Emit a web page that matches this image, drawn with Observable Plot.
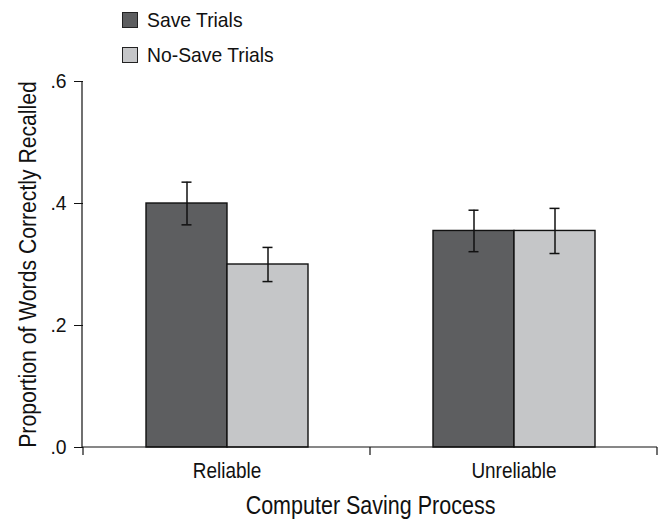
<!DOCTYPE html>
<html><head><meta charset="utf-8">
<script src="https://cdn.jsdelivr.net/npm/d3@7"></script>
<script src="https://cdn.jsdelivr.net/npm/@observablehq/plot@0.6"></script>
<style>
body{margin:0;background:#fff;font-family:"Liberation Sans",Arial,sans-serif;}
#legend{height:66px;position:relative;}
.item{position:absolute;left:122px;height:16px;display:flex;align-items:center;font-size:21px;color:#111;}
.sw{width:14px;height:14px;border:1px solid #222;margin-right:9px;flex:none;}
.item span{display:inline-block;transform:scaleX(0.92);transform-origin:left center;white-space:nowrap;}
svg g[aria-label="y-axis tick label"], svg g[aria-label="y-axis tick label"] text{font-size:21px;}
svg g[aria-label="fx-axis tick label"], svg g[aria-label="fx-axis tick label"] text{font-size:22px;}
svg g[aria-label="fx-axis label"], svg g[aria-label="fx-axis label"] text{font-size:25px;}
svg g[aria-label="y-axis label"], svg g[aria-label="y-axis label"] text{font-size:23px;}
</style></head>
<body>
<div id="legend"></div>
<div id="chart"></div>
<script>
const conditions = ["Reliable", "Unreliable"];
const series = ["Save Trials", "No-Save Trials"];
const saveMeans = [0.40, 0.355];
const saveErr = [0.035, 0.034];
const noSaveMeans = [0.30, 0.355];
const noSaveErr = [0.028, 0.037];
const colors = ["#5d5e60", "#c5c6c8"];
const yTicks = [0, 0.2, 0.4, 0.6];

const rows = [];
conditions.forEach((c, i) => {
  rows.push({cond: c, series: series[0], mean: saveMeans[i], err: saveErr[i]});
  rows.push({cond: c, series: series[1], mean: noSaveMeans[i], err: noSaveErr[i]});
});

// legend
const lg = document.getElementById("legend");
series.forEach((s, i) => {
  const d = document.createElement("div");
  d.className = "item";
  d.style.top = (12 + i * 35) + "px";
  d.innerHTML = `<div class="sw" style="background:${colors[i]}"></div><span>${s}</span>`;
  lg.appendChild(d);
});

const fmt = d => d3.format(".1f")(d).replace(/^0/, "");
const chart = Plot.plot({
  width: 661,
  height: 454,
  marginTop: 15,
  marginBottom: 73,
  marginLeft: 82,
  marginRight: 4,
  style: {fontFamily: '"Liberation Sans",Arial,sans-serif', color: "#111", overflow: "visible"},
  fx: {domain: conditions, paddingInner: 0, paddingOuter: 0},
  x: {domain: series, paddingInner: 0, paddingOuter: 0.753, axis: null},
  y: {domain: [0, 0.6]},
  color: {domain: series, range: colors},
  marks: [
    Plot.axisY({ticks: yTicks, tickFormat: fmt, tickSize: 9, tickPadding: 8,
      label: "Proportion of Words Correctly Recalled", labelAnchor: "center", labelArrow: "none", labelOffset: 64}),
    Plot.axisFx({anchor: "bottom", tickSize: 0, tickPadding: 15,
      label: "Computer Saving Process", labelAnchor: "center", labelArrow: "none", labelOffset: 66}),
    Plot.barY(rows, {fx: "cond", x: "series", y: "mean", fill: "series", stroke: "#111", strokeWidth: 1.4}),
    Plot.ruleX(rows, {fx: "cond", x: "series", y1: d => d.mean - d.err, y2: d => d.mean + d.err, stroke: "#111", strokeWidth: 1.5}),
    Plot.tickY(rows, {fx: "cond", x: "series", y: d => d.mean + d.err, stroke: "#111", strokeWidth: 1.5, insetLeft: 35.5, insetRight: 35.5}),
    Plot.tickY(rows, {fx: "cond", x: "series", y: d => d.mean - d.err, stroke: "#111", strokeWidth: 1.5, insetLeft: 35.5, insetRight: 35.5})
  ]
});

// axis lines and category-boundary ticks, drawn with the plot's own scales
const fx = chart.scale("fx"), y = chart.scale("y");
const svg = d3.select(chart);
const g = svg.append("g").attr("stroke", "#111").attr("stroke-width", 1.2);
const x0 = fx.range[0], x1 = fx.range[1];
g.append("line").attr("x1", x0).attr("x2", x0).attr("y1", y.apply(0)).attr("y2", y.apply(0.6));
g.append("line").attr("x1", x0).attr("x2", x1).attr("y1", y.apply(0)).attr("y2", y.apply(0));
const bounds = conditions.map(c => fx.apply(c)).concat([x1]);
bounds.forEach(b => g.append("line").attr("x1", b).attr("x2", b).attr("y1", y.apply(0)).attr("y2", y.apply(0) + 8));
document.getElementById("chart").appendChild(chart);

// condensed look: squeeze each text's glyphs with textLength
const squeeze = {"y-axis tick label": 0.92, "fx-axis tick label": 0.86, "fx-axis label": 0.86, "y-axis label": 0.92};
Object.entries(squeeze).forEach(([lab, k]) => {
  svg.selectAll(`g[aria-label="${lab}"] text`).each(function() {
    const len = this.getComputedTextLength();
    if (len > 0) d3.select(this).attr("textLength", len * k).attr("lengthAdjust", "spacingAndGlyphs");
  });
});
</script>
</body></html>
